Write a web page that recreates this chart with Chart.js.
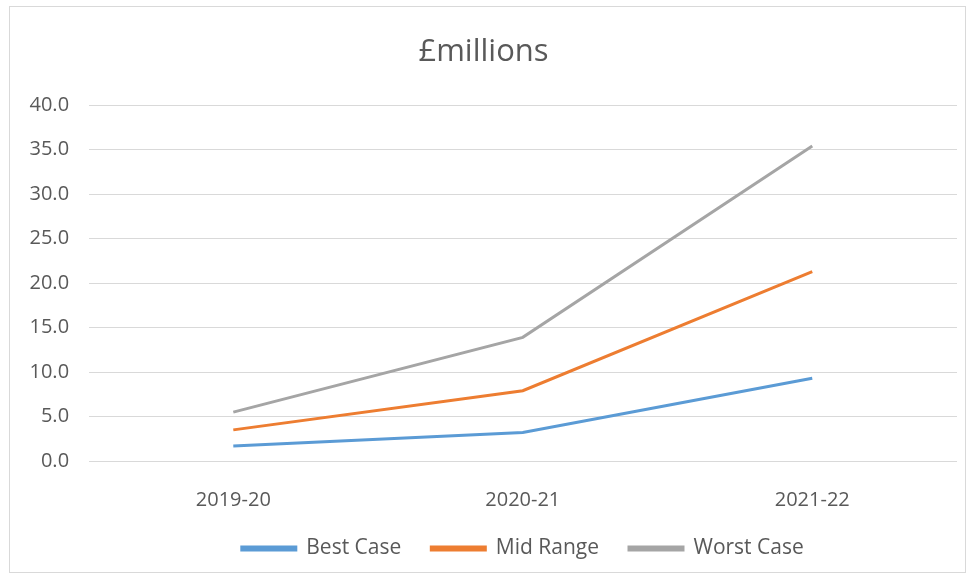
<!DOCTYPE html>
<html>
<head>
<meta charset="utf-8">
<script src="https://cdn.jsdelivr.net/npm/chart.js@4"></script>
<style>
  body { margin: 0; background: #fff; }
  #frame {
    position: absolute; left: 9px; top: 6px;
    width: 955px; height: 565px;
    border: 1px solid #d9d9d9;
    overflow: hidden;
  }
  canvas { display: block; }
</style>
</head>
<body>
<div id="frame"><canvas id="chart" width="955" height="565"></canvas></div>
<script>
// Chart data
const years = ["2019-20", "2020-21", "2021-22"];
const bestCase = [1.7, 3.2, 9.3];
const midRange = [3.5, 7.9, 21.3];
const worstCase = [5.5, 13.9, 35.4];

const textColor = "#595959";
const fontFamily = "'Open Sans', 'Noto Sans', sans-serif";

function lineSet(label, data, color) {
  return {
    label: label,
    data: data,
    borderColor: color,
    backgroundColor: color,
    borderWidth: 3,
    pointRadius: 0,
    tension: 0,
  };
}

new Chart(document.getElementById("chart").getContext("2d"), {
  type: "line",
  data: {
    labels: years,
    datasets: [
      lineSet("Best Case", bestCase, "#5B9BD5"),
      lineSet("Mid Range", midRange, "#ED7D31"),
      lineSet("Worst Case", worstCase, "#A5A5A5"),
    ],
  },
  options: {
    responsive: false,
    animation: false,
    layout: { padding: { left: 0, right: 8, top: 0, bottom: 3 } },
    plugins: {
      title: {
        display: true,
        text: "£millions",
        color: textColor,
        font: { family: fontFamily, size: 31, weight: "normal" },
        padding: { top: 27, bottom: 34 },
      },
      legend: {
        position: "bottom",
        fullSize: false,
        labels: {
          color: textColor,
          font: { family: fontFamily, size: 21 },
          boxWidth: 54,
          boxHeight: 3,
          padding: 30,
        },
      },
      tooltip: { enabled: false },
    },
    scales: {
      x: {
        offset: true,
        grid: { display: false },
        border: { display: false },
        ticks: { color: textColor, font: { family: fontFamily, size: 20 }, padding: 19 },
        // labels stay put, the legend may sit closer underneath
        afterFit: (scale) => { scale.height -= 23; },
      },
      y: {
        min: 0,
        max: 40,
        ticks: {
          stepSize: 5,
          color: textColor,
          font: { family: fontFamily, size: 20 },
          padding: 19.5,
          callback: (v) => v.toFixed(1),
        },
        grid: { color: "#d9d9d9", drawTicks: false },
        border: { display: false },
      },
    },
  },
});
</script>
</body>
</html>
